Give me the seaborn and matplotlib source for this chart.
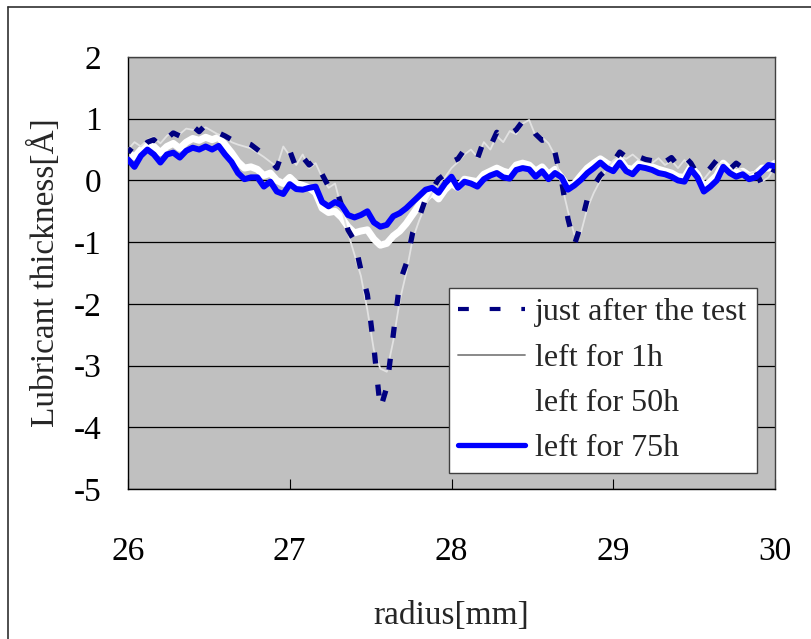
import numpy as np
import pandas as pd
import matplotlib
matplotlib.use("Agg")
import matplotlib.pyplot as plt
import seaborn as sns
from matplotlib.lines import Line2D

# ---- data ----
radius = np.round(np.arange(101) * 0.04 + 26.0, 2)

just_after = [0.45, 0.58, 0.50, 0.62, 0.66, 0.55, 0.68, 0.77, 0.72, 0.86,
              0.88, 0.79, 0.90, 0.82, 0.77, 0.72, 0.66, 0.60, 0.62, 0.58,
              0.50, 0.42, 0.32, 0.20, 0.50, 0.48, 0.20, 0.38, 0.25, 0.34,
              0.10, -0.10, -0.08, -0.40, -0.80, -0.98, -1.45, -1.85, -2.70, -3.70,
              -3.35, -2.50, -1.65, -1.35, -0.85, -0.60, -0.30, -0.15, 0.02, 0.10,
              0.30, 0.35, 0.50, 0.45, 0.35, 0.65, 0.55, 0.78, 0.68, 0.75,
              0.82, 0.96, 0.93, 0.75, 0.65, 0.68, 0.45, 0.00, -0.62, -1.04,
              -0.72, -0.30, -0.08, 0.08, 0.18, 0.30, 0.46, 0.38, 0.46, 0.38,
              0.34, 0.32, 0.42, 0.30, 0.37, 0.24, 0.39, 0.28, 0.10, 0.08,
              0.20, 0.33, 0.33, 0.18, 0.28, 0.20, 0.12, 0.17, -0.08, -0.03,
              0.20]

left_1h = [0.50, 0.62, 0.55, 0.66, 0.70, 0.60, 0.72, 0.80, 0.75, 0.84,
           0.82, 0.80, 0.86, 0.80, 0.74, 0.70, 0.62, 0.58, 0.55, 0.52,
           0.45, 0.38, 0.30, 0.22, 0.55, 0.40, 0.25, 0.42, 0.20, 0.28,
           0.05, -0.12, -0.05, -0.45, -0.85, -1.20, -1.55, -2.10, -2.75, -3.05,
           -3.10, -2.60, -1.95, -1.50, -0.95, -0.65, -0.40, -0.20, -0.05, 0.05,
           0.20, 0.30, 0.42, 0.50, 0.38, 0.62, 0.50, 0.72, 0.62, 0.80,
           0.75, 0.92, 0.98, 0.72, 0.70, 0.60, 0.40, -0.05, -0.50, -0.88,
           -0.85, -0.45, -0.20, 0.00, 0.20, 0.32, 0.40, 0.35, 0.42, 0.33,
           0.30, 0.28, 0.36, 0.25, 0.32, 0.20, 0.33, 0.22, 0.08, 0.02,
           0.15, 0.25, 0.28, 0.15, 0.22, 0.15, 0.10, 0.15, -0.02, 0.05,
           0.22]

left_50h = [0.45, 0.38, 0.50, 0.58, 0.55, 0.45, 0.55, 0.60, 0.52, 0.62,
            0.68, 0.65, 0.70, 0.66, 0.70, 0.58, 0.45, 0.30, 0.20, 0.22,
            0.18, 0.08, 0.12, 0.00, -0.05, 0.05, -0.05, -0.08, -0.12, -0.20,
            -0.45, -0.52, -0.50, -0.60, -0.75, -0.85, -0.82, -0.80, -0.95, -1.05,
            -1.02, -0.90, -0.82, -0.70, -0.55, -0.40, -0.30, -0.20, -0.30, -0.15,
            -0.05, -0.12, 0.02, 0.00, -0.02, 0.10, 0.15, 0.20, 0.15, 0.12,
            0.25, 0.28, 0.25, 0.15, 0.22, 0.10, 0.18, 0.05, -0.10, -0.05,
            0.08, 0.20, 0.28, 0.35, 0.28, 0.22, 0.35, 0.20, 0.18, 0.28,
            0.25, 0.22, 0.18, 0.15, 0.12, 0.06, 0.05, 0.22, 0.10, -0.10,
            -0.02, 0.08, 0.28, 0.18, 0.12, 0.15, 0.08, 0.10, 0.20, 0.20,
            0.28]

left_75h = [0.34, 0.22, 0.40, 0.50, 0.42, 0.29, 0.42, 0.45, 0.37, 0.48,
            0.53, 0.50, 0.55, 0.50, 0.56, 0.42, 0.30, 0.12, 0.02, 0.05,
            0.05, -0.10, -0.02, -0.18, -0.22, -0.06, -0.14, -0.15, -0.12, -0.10,
            -0.35, -0.42, -0.35, -0.40, -0.56, -0.60, -0.56, -0.50, -0.68, -0.75,
            -0.72, -0.58, -0.53, -0.45, -0.35, -0.25, -0.15, -0.12, -0.20, -0.05,
            0.06, -0.12, -0.02, -0.05, -0.10, 0.02, 0.08, 0.12, 0.05, 0.03,
            0.17, 0.20, 0.18, 0.06, 0.15, 0.02, 0.12, 0.05, -0.15, -0.08,
            0.01, 0.12, 0.20, 0.29, 0.20, 0.15, 0.29, 0.15, 0.10, 0.22,
            0.20, 0.17, 0.12, 0.10, 0.06, 0.00, -0.02, 0.18, 0.05, -0.18,
            -0.10, 0.00, 0.22, 0.12, 0.06, 0.10, 0.02, 0.05, 0.15, 0.25,
            0.23]

series_names = ["just after the test", "left for 1h", "left for 50h", "left for 75h"]
x_ticks = [26, 27, 28, 29, 30]
y_ticks = [-5, -4, -3, -2, -1, 0, 1, 2]

df = pd.DataFrame({
    "radius": np.concatenate([radius] * 4),
    "thickness": np.concatenate([just_after, left_1h, left_50h, left_75h]),
    "series": np.repeat(series_names, len(radius)),
})

# ---- style ----
sns.set_style("white")
plt.rcParams["font.family"] = ["Liberation Serif", "DejaVu Serif"]
plt.rcParams["axes.unicode_minus"] = False

fig = plt.figure(figsize=(8.11, 6.39), dpi=100)
ax = fig.add_axes([128 / 811, 150 / 639, 647 / 811, 432 / 639])
ax.set_facecolor("#C0C0C0")

styles = {
    "left for 50h": dict(color="white", lw=5.0, z=2),
    "left for 1h": dict(color="#E2E2E2", lw=1.3, z=3),
    "just after the test": dict(color="#000080", lw=3.8, z=4),
    "left for 75h": dict(color="#0000FF", lw=4.3, z=5),
}
for name in ["left for 50h", "left for 1h", "just after the test", "left for 75h"]:
    st = styles[name]
    sub = df[df["series"] == name]
    sns.lineplot(data=sub, x="radius", y="thickness", ax=ax, color=st["color"],
                 lw=st["lw"], zorder=st["z"], estimator=None, sort=False, legend=False)
    if name == "just after the test":
        ax.lines[-1].set_linestyle((1.0, (2.1, 4.0)))
        ax.lines[-1].set_dash_capstyle("butt")

ax.set_xlim(26, 30)
ax.set_ylim(-5, 2)
ax.set_xticks(x_ticks)
ax.set_yticks(y_ticks)
ax.set_xticklabels([str(t) for t in x_ticks])
ax.set_yticklabels([str(t) for t in y_ticks])
ax.yaxis.grid(True, color="black", lw=0.9)
ax.xaxis.grid(False)
ax.set_axisbelow(True)

for side in ["left", "bottom"]:
    ax.spines[side].set_color("black")
    ax.spines[side].set_linewidth(1.0)
for side in ["top", "right"]:
    ax.spines[side].set_color("#404040")
    ax.spines[side].set_linewidth(1.0)

ax.tick_params(axis="x", direction="in", length=7, width=0.8, pad=34,
               labelsize=24, colors="black", bottom=True)
ax.tick_params(axis="y", length=0, pad=19, labelsize=24, colors="black")

ax.set_xlabel("radius[mm]", fontsize=24, labelpad=24)
ax.set_ylabel("Lubricant thickness[Å]", fontsize=24, labelpad=9)

handles = [
    Line2D([], [], color="#000080", lw=3.0, dashes=[2.6, 5.0], dash_capstyle="butt"),
    Line2D([], [], color="#808080", lw=1.3),
    Line2D([], [], color="white", lw=4.0),
    Line2D([], [], color="#0000FF", lw=3.8, solid_capstyle="round"),
]
leg = ax.legend(handles, series_names, loc="lower right", bbox_to_anchor=(0.972, 0.037),
                borderaxespad=0, fontsize=23, frameon=True, fancybox=False,
                framealpha=1.0, edgecolor="#404040", facecolor="white",
                handlelength=2.1, handletextpad=0.3, labelspacing=0.5,
                borderpad=0.3)
leg.get_frame().set_linewidth(1.0)
leg.set_zorder(10)

# outer chart frame
fig.add_artist(Line2D([8 / 811, 8 / 811], [0, 1 - 7 / 639], transform=fig.transFigure,
                      color="#303030", lw=1.2))
fig.add_artist(Line2D([8 / 811, 1], [1 - 7 / 639, 1 - 7 / 639], transform=fig.transFigure,
                      color="#303030", lw=1.2))

fig.savefig("out.png", dpi=100)
